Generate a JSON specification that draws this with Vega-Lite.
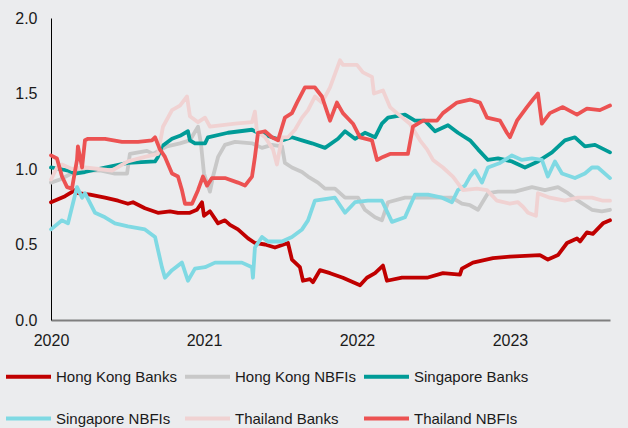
{
  "$schema": "https://vega.github.io/schema/vega-lite/v6.json",
  "width": 559,
  "height": 302,
  "autosize": {"type": "none"},
  "padding": {"left": 51, "top": 18, "right": 18, "bottom": 108},
  "background": "#ebecee",
  "config": {
    "view": {"stroke": null},
    "font": "Liberation Sans",
    "axis": {"labelFont": "Liberation Sans", "labelColor": "#1a1a1a", "labelFontSize": 16, "ticks": false, "tickSize": 0, "grid": false, "title": null}
  },
  "data": {
    "values": [
      {"s":"Hong Kong Banks","d":2020.000,"v":0.78},{"s":"Hong Kong Banks","d":2020.092,"v":0.82},{"s":"Hong Kong Banks","d":2020.157,"v":0.86},{"s":"Hong Kong Banks","d":2020.176,"v":0.84},{"s":"Hong Kong Banks","d":2020.255,"v":0.83},{"s":"Hong Kong Banks","d":2020.353,"v":0.81},{"s":"Hong Kong Banks","d":2020.438,"v":0.79},{"s":"Hong Kong Banks","d":2020.503,"v":0.77},{"s":"Hong Kong Banks","d":2020.536,"v":0.78},{"s":"Hong Kong Banks","d":2020.614,"v":0.74},{"s":"Hong Kong Banks","d":2020.699,"v":0.71},{"s":"Hong Kong Banks","d":2020.778,"v":0.72},{"s":"Hong Kong Banks","d":2020.830,"v":0.71},{"s":"Hong Kong Banks","d":2020.908,"v":0.71},{"s":"Hong Kong Banks","d":2020.954,"v":0.73},{"s":"Hong Kong Banks","d":2020.987,"v":0.78},{"s":"Hong Kong Banks","d":2021.000,"v":0.69},{"s":"Hong Kong Banks","d":2021.039,"v":0.72},{"s":"Hong Kong Banks","d":2021.092,"v":0.64},{"s":"Hong Kong Banks","d":2021.137,"v":0.66},{"s":"Hong Kong Banks","d":2021.170,"v":0.63},{"s":"Hong Kong Banks","d":2021.222,"v":0.60},{"s":"Hong Kong Banks","d":2021.288,"v":0.54},{"s":"Hong Kong Banks","d":2021.333,"v":0.51},{"s":"Hong Kong Banks","d":2021.399,"v":0.50},{"s":"Hong Kong Banks","d":2021.464,"v":0.48},{"s":"Hong Kong Banks","d":2021.549,"v":0.51},{"s":"Hong Kong Banks","d":2021.575,"v":0.40},{"s":"Hong Kong Banks","d":2021.627,"v":0.35},{"s":"Hong Kong Banks","d":2021.647,"v":0.26},{"s":"Hong Kong Banks","d":2021.693,"v":0.27},{"s":"Hong Kong Banks","d":2021.712,"v":0.25},{"s":"Hong Kong Banks","d":2021.758,"v":0.33},{"s":"Hong Kong Banks","d":2021.824,"v":0.31},{"s":"Hong Kong Banks","d":2021.908,"v":0.28},{"s":"Hong Kong Banks","d":2022.020,"v":0.23},{"s":"Hong Kong Banks","d":2022.065,"v":0.28},{"s":"Hong Kong Banks","d":2022.118,"v":0.31},{"s":"Hong Kong Banks","d":2022.170,"v":0.36},{"s":"Hong Kong Banks","d":2022.196,"v":0.26},{"s":"Hong Kong Banks","d":2022.294,"v":0.28},{"s":"Hong Kong Banks","d":2022.458,"v":0.28},{"s":"Hong Kong Banks","d":2022.562,"v":0.31},{"s":"Hong Kong Banks","d":2022.673,"v":0.30},{"s":"Hong Kong Banks","d":2022.686,"v":0.34},{"s":"Hong Kong Banks","d":2022.758,"v":0.38},{"s":"Hong Kong Banks","d":2022.889,"v":0.41},{"s":"Hong Kong Banks","d":2023.000,"v":0.42},{"s":"Hong Kong Banks","d":2023.196,"v":0.43},{"s":"Hong Kong Banks","d":2023.248,"v":0.40},{"s":"Hong Kong Banks","d":2023.314,"v":0.43},{"s":"Hong Kong Banks","d":2023.373,"v":0.51},{"s":"Hong Kong Banks","d":2023.438,"v":0.54},{"s":"Hong Kong Banks","d":2023.458,"v":0.52},{"s":"Hong Kong Banks","d":2023.503,"v":0.58},{"s":"Hong Kong Banks","d":2023.542,"v":0.57},{"s":"Hong Kong Banks","d":2023.608,"v":0.64},{"s":"Hong Kong Banks","d":2023.654,"v":0.66},

      {"s":"Hong Kong NBFIs","d":2020.000,"v":0.91},{"s":"Hong Kong NBFIs","d":2020.059,"v":0.93},{"s":"Hong Kong NBFIs","d":2020.170,"v":0.99},{"s":"Hong Kong NBFIs","d":2020.320,"v":0.99},{"s":"Hong Kong NBFIs","d":2020.418,"v":0.97},{"s":"Hong Kong NBFIs","d":2020.497,"v":0.97},{"s":"Hong Kong NBFIs","d":2020.516,"v":1.10},{"s":"Hong Kong NBFIs","d":2020.627,"v":1.12},{"s":"Hong Kong NBFIs","d":2020.667,"v":1.10},{"s":"Hong Kong NBFIs","d":2020.758,"v":1.15},{"s":"Hong Kong NBFIs","d":2020.843,"v":1.17},{"s":"Hong Kong NBFIs","d":2020.908,"v":1.19},{"s":"Hong Kong NBFIs","d":2020.961,"v":1.28},{"s":"Hong Kong NBFIs","d":2020.980,"v":1.17},{"s":"Hong Kong NBFIs","d":2021.000,"v":0.97},{"s":"Hong Kong NBFIs","d":2021.039,"v":0.85},{"s":"Hong Kong NBFIs","d":2021.059,"v":0.95},{"s":"Hong Kong NBFIs","d":2021.092,"v":1.08},{"s":"Hong Kong NBFIs","d":2021.137,"v":1.16},{"s":"Hong Kong NBFIs","d":2021.203,"v":1.18},{"s":"Hong Kong NBFIs","d":2021.314,"v":1.17},{"s":"Hong Kong NBFIs","d":2021.379,"v":1.14},{"s":"Hong Kong NBFIs","d":2021.444,"v":1.16},{"s":"Hong Kong NBFIs","d":2021.510,"v":1.15},{"s":"Hong Kong NBFIs","d":2021.529,"v":1.04},{"s":"Hong Kong NBFIs","d":2021.575,"v":1.01},{"s":"Hong Kong NBFIs","d":2021.641,"v":0.98},{"s":"Hong Kong NBFIs","d":2021.680,"v":0.95},{"s":"Hong Kong NBFIs","d":2021.745,"v":0.91},{"s":"Hong Kong NBFIs","d":2021.791,"v":0.87},{"s":"Hong Kong NBFIs","d":2021.856,"v":0.87},{"s":"Hong Kong NBFIs","d":2021.922,"v":0.81},{"s":"Hong Kong NBFIs","d":2022.007,"v":0.81},{"s":"Hong Kong NBFIs","d":2022.052,"v":0.73},{"s":"Hong Kong NBFIs","d":2022.118,"v":0.68},{"s":"Hong Kong NBFIs","d":2022.163,"v":0.66},{"s":"Hong Kong NBFIs","d":2022.203,"v":0.78},{"s":"Hong Kong NBFIs","d":2022.314,"v":0.81},{"s":"Hong Kong NBFIs","d":2022.490,"v":0.81},{"s":"Hong Kong NBFIs","d":2022.621,"v":0.81},{"s":"Hong Kong NBFIs","d":2022.686,"v":0.77},{"s":"Hong Kong NBFIs","d":2022.739,"v":0.76},{"s":"Hong Kong NBFIs","d":2022.791,"v":0.73},{"s":"Hong Kong NBFIs","d":2022.856,"v":0.84},{"s":"Hong Kong NBFIs","d":2022.922,"v":0.85},{"s":"Hong Kong NBFIs","d":2023.033,"v":0.85},{"s":"Hong Kong NBFIs","d":2023.144,"v":0.88},{"s":"Hong Kong NBFIs","d":2023.229,"v":0.86},{"s":"Hong Kong NBFIs","d":2023.314,"v":0.88},{"s":"Hong Kong NBFIs","d":2023.379,"v":0.84},{"s":"Hong Kong NBFIs","d":2023.444,"v":0.79},{"s":"Hong Kong NBFIs","d":2023.536,"v":0.73},{"s":"Hong Kong NBFIs","d":2023.601,"v":0.72},{"s":"Hong Kong NBFIs","d":2023.654,"v":0.73},

      {"s":"Singapore Banks","d":2020.000,"v":1.01},{"s":"Singapore Banks","d":2020.059,"v":1.00},{"s":"Singapore Banks","d":2020.111,"v":0.99},{"s":"Singapore Banks","d":2020.157,"v":0.97},{"s":"Singapore Banks","d":2020.222,"v":0.98},{"s":"Singapore Banks","d":2020.353,"v":1.01},{"s":"Singapore Banks","d":2020.503,"v":1.04},{"s":"Singapore Banks","d":2020.680,"v":1.05},{"s":"Singapore Banks","d":2020.699,"v":1.08},{"s":"Singapore Banks","d":2020.725,"v":1.15},{"s":"Singapore Banks","d":2020.791,"v":1.20},{"s":"Singapore Banks","d":2020.843,"v":1.22},{"s":"Singapore Banks","d":2020.895,"v":1.25},{"s":"Singapore Banks","d":2020.908,"v":1.19},{"s":"Singapore Banks","d":2020.941,"v":1.17},{"s":"Singapore Banks","d":2021.007,"v":1.17},{"s":"Singapore Banks","d":2021.026,"v":1.21},{"s":"Singapore Banks","d":2021.157,"v":1.24},{"s":"Singapore Banks","d":2021.314,"v":1.26},{"s":"Singapore Banks","d":2021.353,"v":1.24},{"s":"Singapore Banks","d":2021.444,"v":1.21},{"s":"Singapore Banks","d":2021.510,"v":1.19},{"s":"Singapore Banks","d":2021.575,"v":1.21},{"s":"Singapore Banks","d":2021.641,"v":1.19},{"s":"Singapore Banks","d":2021.706,"v":1.17},{"s":"Singapore Banks","d":2021.791,"v":1.14},{"s":"Singapore Banks","d":2021.876,"v":1.20},{"s":"Singapore Banks","d":2021.922,"v":1.25},{"s":"Singapore Banks","d":2021.987,"v":1.20},{"s":"Singapore Banks","d":2022.052,"v":1.24},{"s":"Singapore Banks","d":2022.118,"v":1.21},{"s":"Singapore Banks","d":2022.163,"v":1.30},{"s":"Singapore Banks","d":2022.203,"v":1.34},{"s":"Singapore Banks","d":2022.314,"v":1.36},{"s":"Singapore Banks","d":2022.379,"v":1.32},{"s":"Singapore Banks","d":2022.444,"v":1.32},{"s":"Singapore Banks","d":2022.510,"v":1.25},{"s":"Singapore Banks","d":2022.595,"v":1.29},{"s":"Singapore Banks","d":2022.660,"v":1.24},{"s":"Singapore Banks","d":2022.739,"v":1.19},{"s":"Singapore Banks","d":2022.791,"v":1.13},{"s":"Singapore Banks","d":2022.856,"v":1.06},{"s":"Singapore Banks","d":2022.922,"v":1.07},{"s":"Singapore Banks","d":2023.013,"v":1.05},{"s":"Singapore Banks","d":2023.098,"v":1.01},{"s":"Singapore Banks","d":2023.183,"v":1.05},{"s":"Singapore Banks","d":2023.275,"v":1.11},{"s":"Singapore Banks","d":2023.359,"v":1.19},{"s":"Singapore Banks","d":2023.425,"v":1.21},{"s":"Singapore Banks","d":2023.490,"v":1.15},{"s":"Singapore Banks","d":2023.556,"v":1.16},{"s":"Singapore Banks","d":2023.654,"v":1.11},

      {"s":"Singapore NBFIs","d":2020.000,"v":0.60},{"s":"Singapore NBFIs","d":2020.072,"v":0.66},{"s":"Singapore NBFIs","d":2020.111,"v":0.64},{"s":"Singapore NBFIs","d":2020.150,"v":0.80},{"s":"Singapore NBFIs","d":2020.170,"v":0.88},{"s":"Singapore NBFIs","d":2020.203,"v":0.81},{"s":"Singapore NBFIs","d":2020.222,"v":0.84},{"s":"Singapore NBFIs","d":2020.288,"v":0.71},{"s":"Singapore NBFIs","d":2020.353,"v":0.68},{"s":"Singapore NBFIs","d":2020.418,"v":0.64},{"s":"Singapore NBFIs","d":2020.503,"v":0.62},{"s":"Singapore NBFIs","d":2020.614,"v":0.60},{"s":"Singapore NBFIs","d":2020.680,"v":0.55},{"s":"Singapore NBFIs","d":2020.725,"v":0.35},{"s":"Singapore NBFIs","d":2020.745,"v":0.28},{"s":"Singapore NBFIs","d":2020.791,"v":0.33},{"s":"Singapore NBFIs","d":2020.856,"v":0.38},{"s":"Singapore NBFIs","d":2020.895,"v":0.26},{"s":"Singapore NBFIs","d":2020.941,"v":0.34},{"s":"Singapore NBFIs","d":2021.007,"v":0.35},{"s":"Singapore NBFIs","d":2021.072,"v":0.38},{"s":"Singapore NBFIs","d":2021.157,"v":0.38},{"s":"Singapore NBFIs","d":2021.248,"v":0.38},{"s":"Singapore NBFIs","d":2021.314,"v":0.35},{"s":"Singapore NBFIs","d":2021.320,"v":0.28},{"s":"Singapore NBFIs","d":2021.333,"v":0.48},{"s":"Singapore NBFIs","d":2021.379,"v":0.55},{"s":"Singapore NBFIs","d":2021.418,"v":0.52},{"s":"Singapore NBFIs","d":2021.510,"v":0.52},{"s":"Singapore NBFIs","d":2021.575,"v":0.55},{"s":"Singapore NBFIs","d":2021.641,"v":0.60},{"s":"Singapore NBFIs","d":2021.680,"v":0.66},{"s":"Singapore NBFIs","d":2021.725,"v":0.79},{"s":"Singapore NBFIs","d":2021.791,"v":0.80},{"s":"Singapore NBFIs","d":2021.856,"v":0.81},{"s":"Singapore NBFIs","d":2021.922,"v":0.71},{"s":"Singapore NBFIs","d":2021.987,"v":0.78},{"s":"Singapore NBFIs","d":2022.072,"v":0.79},{"s":"Singapore NBFIs","d":2022.163,"v":0.79},{"s":"Singapore NBFIs","d":2022.229,"v":0.65},{"s":"Singapore NBFIs","d":2022.314,"v":0.68},{"s":"Singapore NBFIs","d":2022.379,"v":0.83},{"s":"Singapore NBFIs","d":2022.464,"v":0.83},{"s":"Singapore NBFIs","d":2022.556,"v":0.81},{"s":"Singapore NBFIs","d":2022.621,"v":0.78},{"s":"Singapore NBFIs","d":2022.660,"v":0.86},{"s":"Singapore NBFIs","d":2022.706,"v":0.89},{"s":"Singapore NBFIs","d":2022.739,"v":0.95},{"s":"Singapore NBFIs","d":2022.771,"v":0.99},{"s":"Singapore NBFIs","d":2022.817,"v":0.91},{"s":"Singapore NBFIs","d":2022.856,"v":1.01},{"s":"Singapore NBFIs","d":2022.935,"v":1.04},{"s":"Singapore NBFIs","d":2023.013,"v":1.09},{"s":"Singapore NBFIs","d":2023.078,"v":1.06},{"s":"Singapore NBFIs","d":2023.144,"v":1.07},{"s":"Singapore NBFIs","d":2023.209,"v":1.06},{"s":"Singapore NBFIs","d":2023.248,"v":0.95},{"s":"Singapore NBFIs","d":2023.294,"v":1.05},{"s":"Singapore NBFIs","d":2023.340,"v":0.97},{"s":"Singapore NBFIs","d":2023.425,"v":0.94},{"s":"Singapore NBFIs","d":2023.490,"v":0.97},{"s":"Singapore NBFIs","d":2023.536,"v":1.01},{"s":"Singapore NBFIs","d":2023.575,"v":1.01},{"s":"Singapore NBFIs","d":2023.654,"v":0.94},

      {"s":"Thailand Banks","d":2020.000,"v":0.93},{"s":"Thailand Banks","d":2020.039,"v":1.01},{"s":"Thailand Banks","d":2020.072,"v":1.03},{"s":"Thailand Banks","d":2020.137,"v":1.00},{"s":"Thailand Banks","d":2020.222,"v":1.01},{"s":"Thailand Banks","d":2020.399,"v":0.99},{"s":"Thailand Banks","d":2020.503,"v":1.05},{"s":"Thailand Banks","d":2020.614,"v":1.08},{"s":"Thailand Banks","d":2020.699,"v":1.10},{"s":"Thailand Banks","d":2020.732,"v":1.28},{"s":"Thailand Banks","d":2020.791,"v":1.39},{"s":"Thailand Banks","d":2020.843,"v":1.42},{"s":"Thailand Banks","d":2020.889,"v":1.48},{"s":"Thailand Banks","d":2020.908,"v":1.35},{"s":"Thailand Banks","d":2020.961,"v":1.31},{"s":"Thailand Banks","d":2021.007,"v":1.34},{"s":"Thailand Banks","d":2021.039,"v":1.28},{"s":"Thailand Banks","d":2021.203,"v":1.30},{"s":"Thailand Banks","d":2021.314,"v":1.31},{"s":"Thailand Banks","d":2021.333,"v":1.38},{"s":"Thailand Banks","d":2021.346,"v":1.25},{"s":"Thailand Banks","d":2021.399,"v":1.21},{"s":"Thailand Banks","d":2021.451,"v":1.13},{"s":"Thailand Banks","d":2021.477,"v":1.03},{"s":"Thailand Banks","d":2021.510,"v":1.21},{"s":"Thailand Banks","d":2021.549,"v":1.21},{"s":"Thailand Banks","d":2021.595,"v":1.26},{"s":"Thailand Banks","d":2021.641,"v":1.34},{"s":"Thailand Banks","d":2021.680,"v":1.39},{"s":"Thailand Banks","d":2021.725,"v":1.48},{"s":"Thailand Banks","d":2021.771,"v":1.44},{"s":"Thailand Banks","d":2021.824,"v":1.54},{"s":"Thailand Banks","d":2021.889,"v":1.72},{"s":"Thailand Banks","d":2021.908,"v":1.69},{"s":"Thailand Banks","d":2022.000,"v":1.69},{"s":"Thailand Banks","d":2022.039,"v":1.64},{"s":"Thailand Banks","d":2022.098,"v":1.61},{"s":"Thailand Banks","d":2022.111,"v":1.50},{"s":"Thailand Banks","d":2022.170,"v":1.52},{"s":"Thailand Banks","d":2022.216,"v":1.41},{"s":"Thailand Banks","d":2022.261,"v":1.37},{"s":"Thailand Banks","d":2022.346,"v":1.30},{"s":"Thailand Banks","d":2022.412,"v":1.19},{"s":"Thailand Banks","d":2022.458,"v":1.13},{"s":"Thailand Banks","d":2022.497,"v":1.06},{"s":"Thailand Banks","d":2022.562,"v":1.01},{"s":"Thailand Banks","d":2022.627,"v":0.95},{"s":"Thailand Banks","d":2022.693,"v":0.86},{"s":"Thailand Banks","d":2022.784,"v":0.87},{"s":"Thailand Banks","d":2022.850,"v":0.86},{"s":"Thailand Banks","d":2022.915,"v":0.79},{"s":"Thailand Banks","d":2023.000,"v":0.77},{"s":"Thailand Banks","d":2023.052,"v":0.78},{"s":"Thailand Banks","d":2023.085,"v":0.75},{"s":"Thailand Banks","d":2023.118,"v":0.71},{"s":"Thailand Banks","d":2023.170,"v":0.69},{"s":"Thailand Banks","d":2023.183,"v":0.84},{"s":"Thailand Banks","d":2023.261,"v":0.81},{"s":"Thailand Banks","d":2023.359,"v":0.79},{"s":"Thailand Banks","d":2023.444,"v":0.81},{"s":"Thailand Banks","d":2023.536,"v":0.81},{"s":"Thailand Banks","d":2023.608,"v":0.79},{"s":"Thailand Banks","d":2023.654,"v":0.79},

      {"s":"Thailand NBFIs","d":2020.000,"v":1.09},{"s":"Thailand NBFIs","d":2020.039,"v":1.07},{"s":"Thailand NBFIs","d":2020.072,"v":0.95},{"s":"Thailand NBFIs","d":2020.105,"v":0.88},{"s":"Thailand NBFIs","d":2020.137,"v":0.87},{"s":"Thailand NBFIs","d":2020.170,"v":1.06},{"s":"Thailand NBFIs","d":2020.176,"v":1.15},{"s":"Thailand NBFIs","d":2020.203,"v":1.01},{"s":"Thailand NBFIs","d":2020.222,"v":1.19},{"s":"Thailand NBFIs","d":2020.242,"v":1.20},{"s":"Thailand NBFIs","d":2020.353,"v":1.20},{"s":"Thailand NBFIs","d":2020.464,"v":1.18},{"s":"Thailand NBFIs","d":2020.569,"v":1.18},{"s":"Thailand NBFIs","d":2020.660,"v":1.19},{"s":"Thailand NBFIs","d":2020.680,"v":1.21},{"s":"Thailand NBFIs","d":2020.712,"v":1.13},{"s":"Thailand NBFIs","d":2020.745,"v":1.08},{"s":"Thailand NBFIs","d":2020.791,"v":0.97},{"s":"Thailand NBFIs","d":2020.830,"v":0.95},{"s":"Thailand NBFIs","d":2020.856,"v":0.86},{"s":"Thailand NBFIs","d":2020.876,"v":0.77},{"s":"Thailand NBFIs","d":2020.922,"v":0.77},{"s":"Thailand NBFIs","d":2020.961,"v":0.86},{"s":"Thailand NBFIs","d":2020.993,"v":0.95},{"s":"Thailand NBFIs","d":2021.020,"v":0.89},{"s":"Thailand NBFIs","d":2021.052,"v":0.94},{"s":"Thailand NBFIs","d":2021.137,"v":0.94},{"s":"Thailand NBFIs","d":2021.222,"v":0.91},{"s":"Thailand NBFIs","d":2021.268,"v":0.89},{"s":"Thailand NBFIs","d":2021.314,"v":0.95},{"s":"Thailand NBFIs","d":2021.333,"v":1.08},{"s":"Thailand NBFIs","d":2021.353,"v":1.24},{"s":"Thailand NBFIs","d":2021.399,"v":1.25},{"s":"Thailand NBFIs","d":2021.444,"v":1.21},{"s":"Thailand NBFIs","d":2021.484,"v":1.19},{"s":"Thailand NBFIs","d":2021.529,"v":1.34},{"s":"Thailand NBFIs","d":2021.575,"v":1.37},{"s":"Thailand NBFIs","d":2021.608,"v":1.44},{"s":"Thailand NBFIs","d":2021.660,"v":1.54},{"s":"Thailand NBFIs","d":2021.725,"v":1.54},{"s":"Thailand NBFIs","d":2021.771,"v":1.48},{"s":"Thailand NBFIs","d":2021.824,"v":1.32},{"s":"Thailand NBFIs","d":2021.869,"v":1.44},{"s":"Thailand NBFIs","d":2021.908,"v":1.37},{"s":"Thailand NBFIs","d":2021.974,"v":1.30},{"s":"Thailand NBFIs","d":2022.020,"v":1.21},{"s":"Thailand NBFIs","d":2022.098,"v":1.19},{"s":"Thailand NBFIs","d":2022.131,"v":1.06},{"s":"Thailand NBFIs","d":2022.170,"v":1.08},{"s":"Thailand NBFIs","d":2022.216,"v":1.10},{"s":"Thailand NBFIs","d":2022.333,"v":1.10},{"s":"Thailand NBFIs","d":2022.366,"v":1.28},{"s":"Thailand NBFIs","d":2022.431,"v":1.32},{"s":"Thailand NBFIs","d":2022.523,"v":1.32},{"s":"Thailand NBFIs","d":2022.562,"v":1.37},{"s":"Thailand NBFIs","d":2022.654,"v":1.44},{"s":"Thailand NBFIs","d":2022.739,"v":1.46},{"s":"Thailand NBFIs","d":2022.804,"v":1.44},{"s":"Thailand NBFIs","d":2022.850,"v":1.34},{"s":"Thailand NBFIs","d":2022.935,"v":1.32},{"s":"Thailand NBFIs","d":2022.980,"v":1.24},{"s":"Thailand NBFIs","d":2023.000,"v":1.21},{"s":"Thailand NBFIs","d":2023.046,"v":1.32},{"s":"Thailand NBFIs","d":2023.111,"v":1.41},{"s":"Thailand NBFIs","d":2023.150,"v":1.46},{"s":"Thailand NBFIs","d":2023.183,"v":1.50},{"s":"Thailand NBFIs","d":2023.209,"v":1.30},{"s":"Thailand NBFIs","d":2023.261,"v":1.37},{"s":"Thailand NBFIs","d":2023.346,"v":1.41},{"s":"Thailand NBFIs","d":2023.438,"v":1.36},{"s":"Thailand NBFIs","d":2023.503,"v":1.40},{"s":"Thailand NBFIs","d":2023.588,"v":1.39},{"s":"Thailand NBFIs","d":2023.654,"v":1.42}
    ]
  },
  "mark": {"type": "line", "strokeWidth": 3.8, "strokeJoin": "round", "strokeCap": "round"},
  "encoding": {
    "x": {
      "field": "d", "type": "quantitative",
      "scale": {"domain": [2020, 2023.654], "nice": false, "zero": false},
      "axis": {"values": [2020, 2021, 2022, 2023], "format": "d", "labelPadding": 12, "domainColor": "#7f7f7f", "domainWidth": 2, "labelFlush": false}
    },
    "y": {
      "field": "v", "type": "quantitative",
      "scale": {"domain": [0, 2], "nice": false},
      "axis": {"values": [0, 0.5, 1, 1.5, 2], "format": ".1f", "labelPadding": 14, "domainColor": "#000000", "domainWidth": 1}
    },
    "color": {
      "field": "s", "type": "nominal",
      "scale": {
        "domain": ["Hong Kong Banks", "Hong Kong NBFIs", "Singapore Banks", "Singapore NBFIs", "Thailand Banks", "Thailand NBFIs"],
        "range": ["#c00000", "#c8c8c8", "#009b97", "#7fd9e3", "#f0d2d2", "#ec5252"]
      },
      "legend": {
        "title": null, "orient": "none", "legendX": -47, "legendY": 334, "direction": "horizontal", "columns": 3,
        "symbolType": "stroke", "symbolSize": 2025, "symbolStrokeWidth": 4, "labelFont": "Liberation Sans", "labelFontSize": 15, "labelColor": "#1a1a1a",
        "labelOffset": 3, "columnPadding": 0, "rowPadding": 9, "labelLimit": 200, "padding": 0
      }
    }
  }
}
